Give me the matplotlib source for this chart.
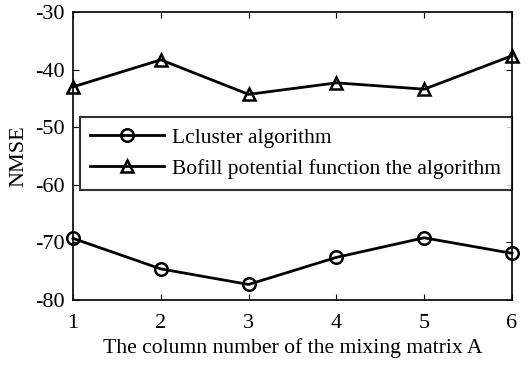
import numpy as np
import matplotlib as mpl
mpl.use('Agg')
import matplotlib.pyplot as plt

plt.rcParams['font.family'] = ['Liberation Serif', 'DejaVu Serif']
plt.rcParams['axes.unicode_minus'] = False

cols = [1, 2, 3, 4, 5, 6]
lcluster = [-69.3, -74.6, -77.3, -72.6, -69.2, -71.9]
bofill = [-43.0, -38.3, -44.3, -42.3, -43.4, -37.6]
y_ticks = [-80, -70, -60, -50, -40, -30]

fig = plt.figure(figsize=(5.28, 3.65), dpi=100)
ax = fig.add_axes([73/528, 65/365, 439/528, 288/365])

ax.plot(cols, lcluster, 'k-', lw=2, marker='o', ms=9, mfc='none', mew=1.8,
        label='Lcluster algorithm', clip_on=False)
ax.plot(cols, bofill, 'k-', lw=2, marker='^', ms=9, mfc='none', mew=1.8,
        label='Bofill potential function the algorithm', clip_on=False)

ax.set_xlim(1, 6)
ax.set_ylim(-80, -30)
ax.set_xticks(cols)
ax.set_yticks(y_ticks)
ax.tick_params(direction='in', length=4, labelsize=16, top=True, right=True)
ax.tick_params(axis='x', pad=10)
ax.tick_params(axis='y', pad=6)
for s in ax.spines.values():
    s.set_linewidth(1.2)

ax.set_xlabel('The column number of the mixing matrix A', fontsize=15.6, labelpad=4)
ax.set_ylabel('NMSE', fontsize=16, labelpad=5)

leg = ax.legend(loc='upper right', bbox_to_anchor=(1.0, 0.635), fontsize=15.5,
                frameon=True, fancybox=False, edgecolor='k', borderpad=0.5,
                handlelength=3.4, handletextpad=0.4, labelspacing=0.5,
                borderaxespad=0)
leg.get_frame().set_linewidth(1.5)

plt.savefig('out.png', dpi=100)
